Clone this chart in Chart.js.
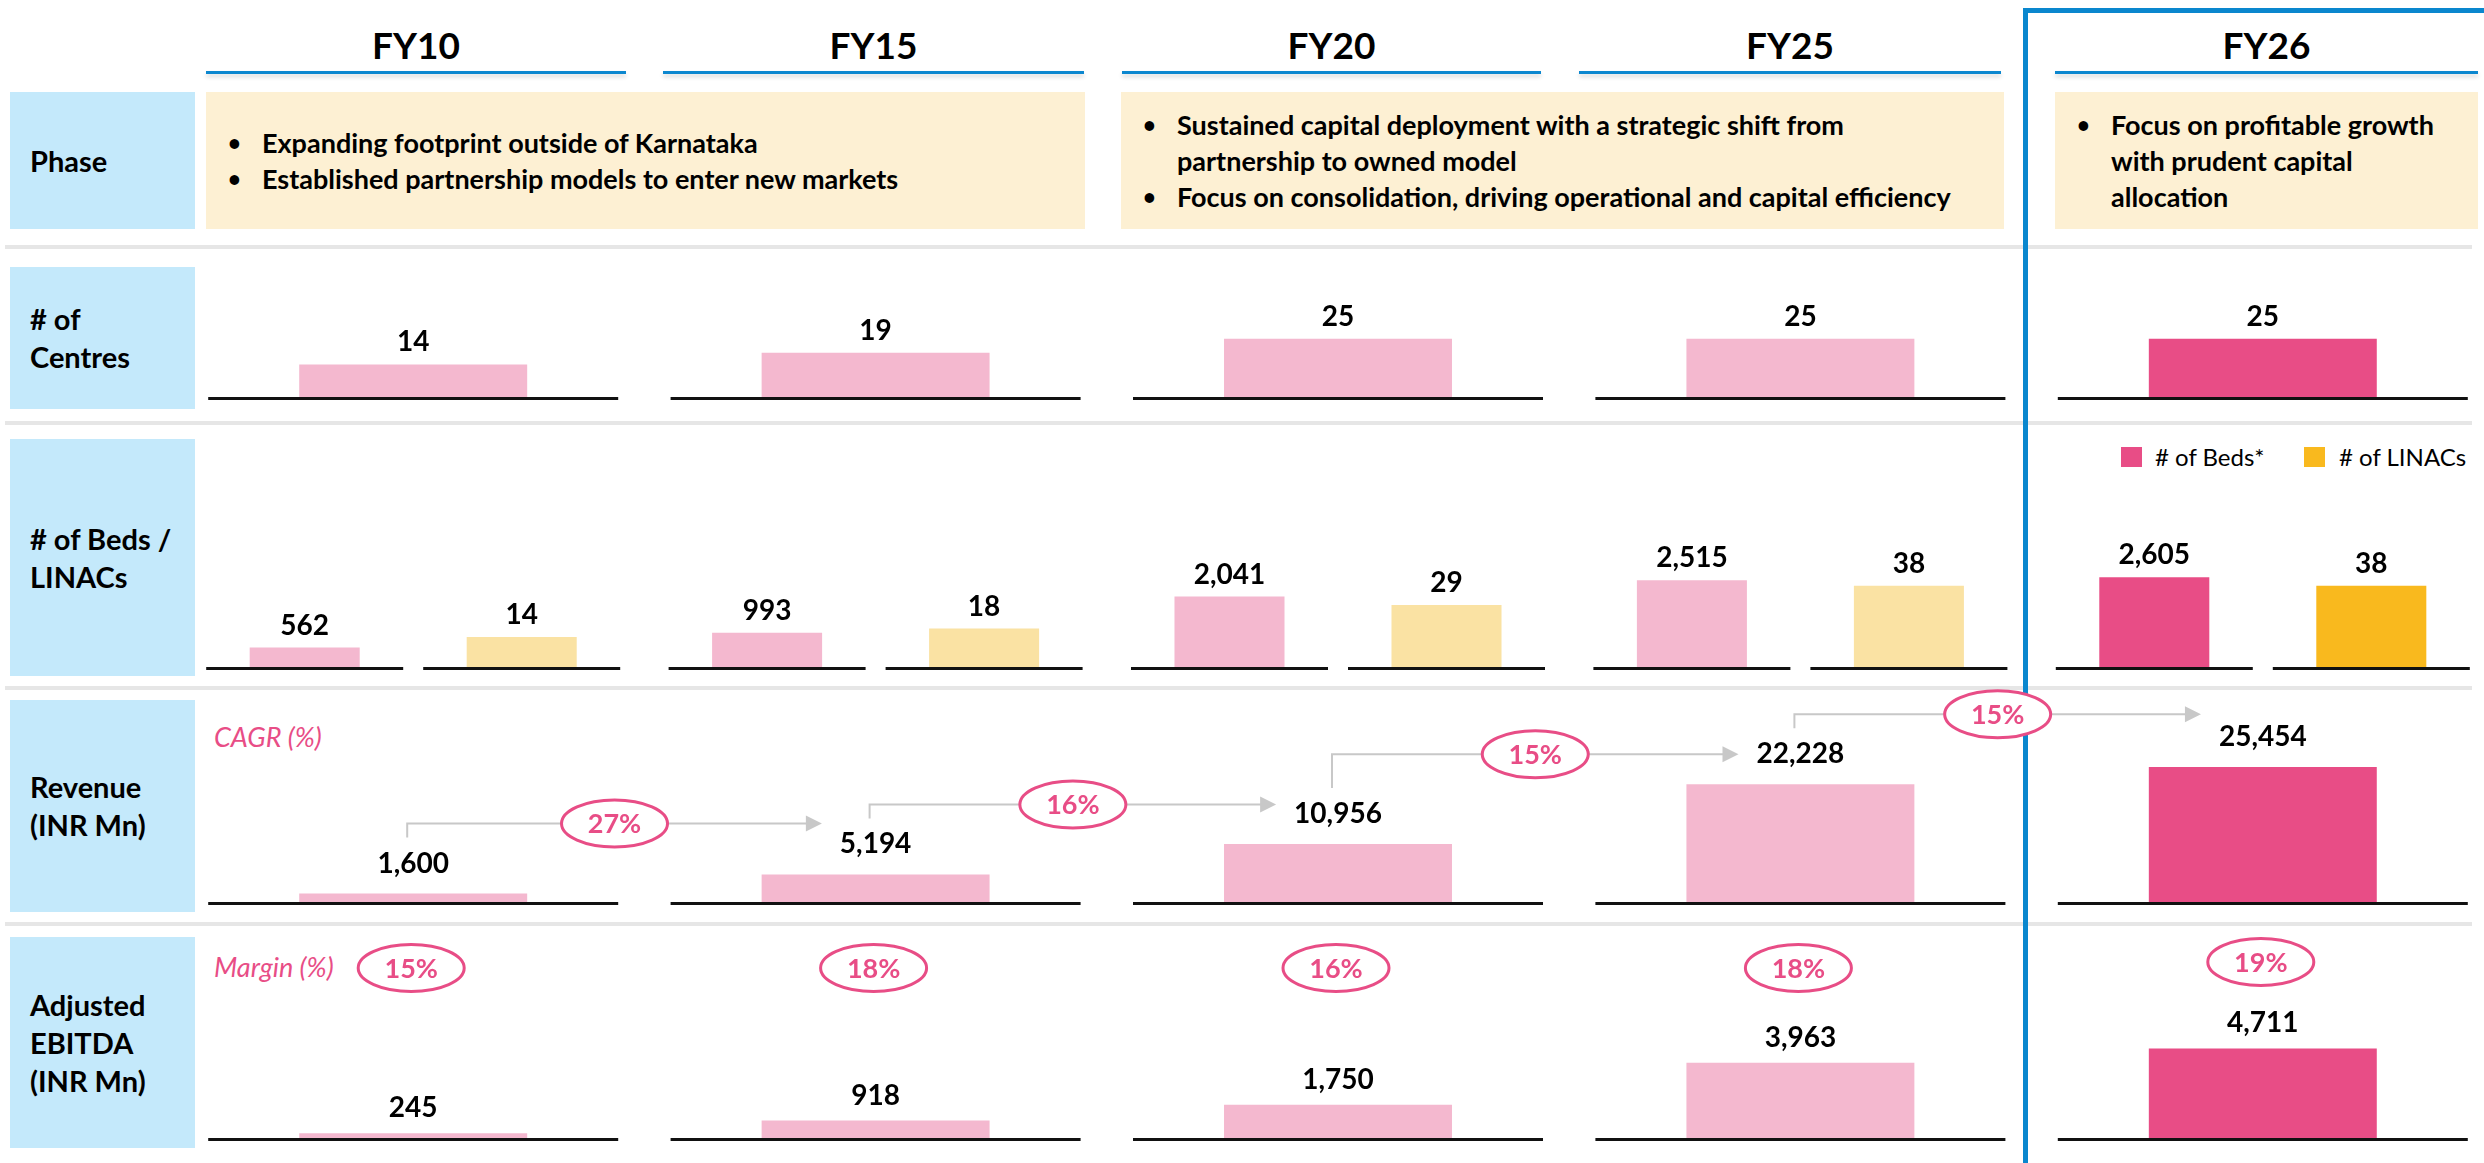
<!DOCTYPE html>
<html>
<head>
<meta charset="utf-8">
<script src="https://cdn.jsdelivr.net/npm/chart.js@4.4.1/dist/chart.umd.min.js"></script>
<style>
  body { margin: 0; width: 2484px; height: 1163px; overflow: hidden; background: #fff; position: relative; font-family: Lato, "Open Sans", sans-serif; color: #000; }
  .fy { position: absolute; top: 20px; height: 50px; line-height: 50px; text-align: center; font-weight: bold; font-size: 37px; }
  .uline { position: absolute; top: 71px; height: 3px; background: #0C87CF; box-shadow: 0 3px 4px rgba(0,0,0,0.16); }
  .lab { position: absolute; left: 10px; width: 185px; background: #C4E9FB; display: flex; align-items: center; box-sizing: border-box; padding-left: 20px; font-weight: bold; font-size: 29px; line-height: 38px; white-space: nowrap; }
  .sep { position: absolute; left: 5px; width: 2467px; height: 4px; background: #E6E6E6; }
  .phase { position: absolute; top: 92px; height: 137px; background: #FDF0D3; display: flex; align-items: center; font-weight: bold; font-size: 27px; line-height: 36px; }
  .phase ul { margin: 0; padding: 0 0 0 56px; list-style: none; }
  .phase li { position: relative; white-space: nowrap; }
  .phase li:before { content: "\2022"; position: absolute; left: -34px; font-size: 22px; }
  .note { position: absolute; left: 214px; font-style: italic; font-size: 27px; color: #E84D86; height: 30px; line-height: 30px; }
  .blue { position: absolute; background: #0A87CE; }
  .lg { position: absolute; font-size: 24px; height: 30px; line-height: 30px; top: 442px; }
  .sq { position: absolute; width: 21px; height: 20px; top: 447px; }
  canvas { position: absolute; left: 182px; }
</style>
</head>
<body>

<div class="sep" style="top:245px"></div>
<div class="sep" style="top:421px"></div>
<div class="sep" style="top:686px"></div>
<div class="sep" style="top:922px"></div>

<div class="blue" style="left:2023px;top:8px;width:5px;height:1155px"></div>
<div class="blue" style="left:2023px;top:8px;width:461px;height:5px"></div>

<div id="heads"></div>

<div class="lab" style="top:92px;height:137px">Phase</div>
<div class="lab" style="top:267px;height:142px">#&nbsp;of<br>Centres</div>
<div class="lab" style="top:439px;height:237px"># of Beds /<br>LINACs</div>
<div class="lab" style="top:700px;height:212px">Revenue<br>(INR Mn)</div>
<div class="lab" style="top:937px;height:211px">Adjusted<br>EBITDA<br>(INR Mn)</div>

<div class="phase" style="left:206px;width:879px"><ul>
  <li>Expanding footprint outside of Karnataka</li>
  <li>Established partnership models to enter new markets</li>
</ul></div>
<div class="phase" style="left:1121px;width:883px"><ul>
  <li>Sustained capital deployment with a strategic shift from<br>partnership to owned model</li>
  <li>Focus on consolidation, driving operational and capital efficiency</li>
</ul></div>
<div class="phase" style="left:2055px;width:423px"><ul>
  <li>Focus on profitable growth<br>with prudent capital<br>allocation</li>
</ul></div>

<div class="note" style="top:722px">CAGR (%)</div>
<div class="note" style="top:952px">Margin (%)</div>

<div class="sq" style="left:2121px;background:#E84D86"></div>
<div class="lg" style="left:2155px"># of Beds*</div>
<div class="sq" style="left:2304px;background:#F9B91E"></div>
<div class="lg" style="left:2339px"># of LINACs</div>

<canvas id="centresChart" width="2312" height="146" style="top:255px"></canvas>
<canvas id="bedsChart" width="2312" height="241" style="top:430px"></canvas>
<canvas id="revenueChart" width="2312" height="220" style="top:686px"></canvas>
<canvas id="ebitdaChart" width="2312" height="217" style="top:925px"></canvas>

<script>
const years = ['FY10', 'FY15', 'FY20', 'FY25', 'FY26'];
const centres = [14, 19, 25, 25, 25];
const beds = [562, 993, 2041, 2515, 2605];
const linacs = [14, 18, 29, 38, 38];
const revenue = [1600, 5194, 10956, 22228, 25454];
const cagr = ['27%', '16%', '15%', '15%'];
const ebitda = [245, 918, 1750, 3963, 4711];
const margin = ['15%', '18%', '16%', '18%', '19%'];

const pinkLight = '#F4B8CF', pinkDark = '#E84D86';
const yellowLight = '#FAE2A3', yellowDark = '#F9B91E';
const fmt = v => v.toLocaleString('en-US');
const shade = (light, dark) => years.map((y, i) => i === years.length - 1 ? dark : light);

// year headers
const headPos = [[206, 420], [663, 421], [1122, 419], [1579, 422], [2055, 423]];
const heads = document.getElementById('heads');
years.forEach((y, i) => {
  const [l, w] = headPos[i];
  heads.insertAdjacentHTML('beforeend',
    '<div class="fy" style="left:' + l + 'px;width:' + w + 'px">' + y + '</div>' +
    '<div class="uline" style="left:' + l + 'px;width:' + w + 'px"></div>');
});

// black base line under every column (or under every bar)
const baseline = {
  id: 'baseline',
  afterDatasetsDraw(chart, args, opts) {
    const ctx = chart.ctx;
    const y0 = chart.scales.y.getPixelForValue(0) + 1.5;
    ctx.save();
    ctx.strokeStyle = '#111';
    ctx.lineWidth = 3;
    chart.data.datasets.forEach((ds, di) => {
      chart.getDatasetMeta(di).data.forEach(b => {
        ctx.beginPath();
        ctx.moveTo(b.x - opts.half, y0);
        ctx.lineTo(b.x + opts.half, y0);
        ctx.stroke();
      });
    });
    ctx.restore();
  }
};

// value above each bar
const valueLabels = {
  id: 'valueLabels',
  afterDatasetsDraw(chart, args, opts) {
    const ctx = chart.ctx;
    ctx.save();
    ctx.font = 'bold 28px Lato';
    ctx.fillStyle = '#000';
    ctx.textAlign = 'center';
    ctx.textBaseline = 'middle';
    chart.data.datasets.forEach((ds, di) => {
      chart.getDatasetMeta(di).data.forEach((b, i) => {
        ctx.fillText(fmt(ds.data[i]), b.x, b.y - opts.offset);
      });
    });
    ctx.restore();
  }
};

function pill(ctx, x, y, text) {
  ctx.beginPath();
  ctx.ellipse(x, y, 53, 23.5, 0, 0, Math.PI * 2);
  ctx.fillStyle = '#fff';
  ctx.fill();
  ctx.lineWidth = 3;
  ctx.strokeStyle = pinkDark;
  ctx.stroke();
  ctx.font = 'bold 27px Lato';
  ctx.fillStyle = pinkDark;
  ctx.textAlign = 'center';
  ctx.textBaseline = 'middle';
  ctx.fillText(text, x, y + 1);
}

// CAGR connectors between revenue labels
const cagrArrows = {
  id: 'cagrArrows',
  afterDraw(chart, args, opts) {
    const ctx = chart.ctx;
    const bars = chart.getDatasetMeta(0).data;
    ctx.save();
    ctx.font = 'bold 28px Lato';
    const lbl = bars.map((b, i) => ({ x: b.x, y: b.y - opts.offset, w: ctx.measureText(fmt(revenue[i])).width }));
    cagr.forEach((txt, i) => {
      const src = lbl[i], dst = lbl[i + 1];
      const vx = src.x - 6;
      const lineY = Math.min(dst.y, src.y - 40);
      const tip = dst.x - dst.w / 2 - 18;
      ctx.strokeStyle = '#C8C8C8';
      ctx.fillStyle = '#C8C8C8';
      ctx.lineWidth = 2;
      ctx.beginPath();
      ctx.moveTo(vx, src.y - 26);
      ctx.lineTo(vx, lineY);
      ctx.lineTo(tip - 15, lineY);
      ctx.stroke();
      ctx.beginPath();
      ctx.moveTo(tip - 16, lineY - 8);
      ctx.lineTo(tip, lineY);
      ctx.lineTo(tip - 16, lineY + 8);
      ctx.closePath();
      ctx.fill();
      pill(ctx, (vx + tip) / 2, lineY, txt);
    });
    ctx.restore();
  }
};

// margin pills above EBITDA bars
const marginPills = {
  id: 'marginPills',
  afterDraw(chart) {
    const ctx = chart.ctx;
    ctx.save();
    chart.getDatasetMeta(0).data.forEach((b, i) => {
      const y = chart.chartArea.top + (i === years.length - 1 ? 37 : 43);
      pill(ctx, b.x - 2, y, margin[i]);
    });
    ctx.restore();
  }
};

function baseOptions(yMax, bottom) {
  return {
    responsive: false,
    animation: false,
    events: [],
    layout: { padding: { bottom: bottom } },
    plugins: { legend: { display: false }, tooltip: { enabled: false } },
    scales: {
      x: { display: false, offset: true },
      y: { display: false, min: 0, max: yMax }
    }
  };
}

// # of Centres
const centresOpts = baseOptions(61, 4);
centresOpts.plugins.baseline = { half: 205 };
centresOpts.plugins.valueLabels = { offset: 22 };
new Chart(document.getElementById('centresChart'), {
  type: 'bar',
  data: {
    labels: years,
    datasets: [{
      label: '# of Centres',
      data: centres,
      backgroundColor: shade(pinkLight, pinkDark),
      barPercentage: 0.493,
      categoryPercentage: 1
    }]
  },
  options: centresOpts,
  plugins: [baseline, valueLabels]
});

// # of Beds / LINACs
const bedsOpts = baseOptions(6870, 4);
bedsOpts.scales.y1 = { display: false, min: 0, max: 111 };
bedsOpts.plugins.baseline = { half: 98.5 };
bedsOpts.plugins.valueLabels = { offset: 22 };
new Chart(document.getElementById('bedsChart'), {
  type: 'bar',
  data: {
    labels: years,
    datasets: [{
      label: '# of Beds*',
      data: beds,
      yAxisID: 'y',
      backgroundColor: shade(pinkLight, pinkDark),
      barPercentage: 0.507,
      categoryPercentage: 0.9386
    }, {
      label: '# of LINACs',
      data: linacs,
      yAxisID: 'y1',
      backgroundColor: shade(yellowLight, yellowDark),
      barPercentage: 0.507,
      categoryPercentage: 0.9386
    }]
  },
  options: bedsOpts,
  plugins: [baseline, valueLabels]
});

// Revenue
const revenueOpts = baseOptions(40750, 4);
revenueOpts.plugins.baseline = { half: 205 };
revenueOpts.plugins.valueLabels = { offset: 30 };
revenueOpts.plugins.cagrArrows = { offset: 30 };
new Chart(document.getElementById('revenueChart'), {
  type: 'bar',
  data: {
    labels: years,
    datasets: [{
      label: 'Revenue (INR Mn)',
      data: revenue,
      backgroundColor: shade(pinkLight, pinkDark),
      barPercentage: 0.493,
      categoryPercentage: 1
    }]
  },
  options: revenueOpts,
  plugins: [baseline, valueLabels, cagrArrows]
});

// Adjusted EBITDA
const ebitdaOpts = baseOptions(11200, 4);
ebitdaOpts.plugins.baseline = { half: 205 };
ebitdaOpts.plugins.valueLabels = { offset: 25 };
new Chart(document.getElementById('ebitdaChart'), {
  type: 'bar',
  data: {
    labels: years,
    datasets: [{
      label: 'Adjusted EBITDA (INR Mn)',
      data: ebitda,
      backgroundColor: shade(pinkLight, pinkDark),
      barPercentage: 0.493,
      categoryPercentage: 1
    }]
  },
  options: ebitdaOpts,
  plugins: [baseline, valueLabels, marginPills]
});
</script>
</body>
</html>
